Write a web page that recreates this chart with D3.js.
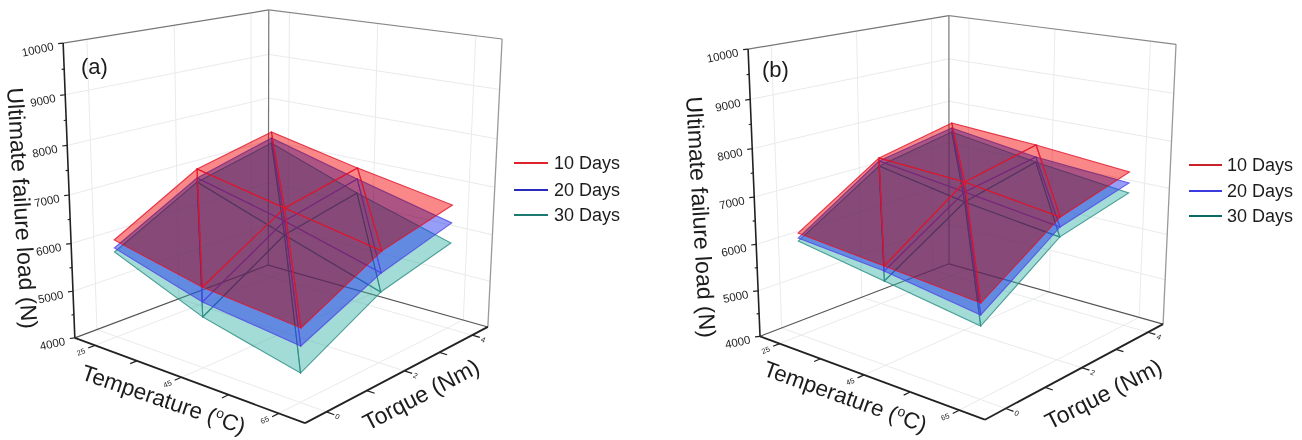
<!DOCTYPE html>
<html><head><meta charset="utf-8"><script src="https://cdn.jsdelivr.net/npm/d3@7"></script>
<style>html,body{margin:0;background:#fff}svg{display:block}text{font-family:"Liberation Sans",Arial,sans-serif;fill:#1c1c1c}</style></head>
<body><svg id="c" width="1302" height="440"></svg>
<script>
const temps=[25,45,65], torques=[0,2,4], zTicks=[4000,5000,6000,7000,8000,9000,10000];
const series=["10 Days","20 Days","30 Days"];
// ultimate failure load (N): one row per temperature, one value per torque
const panelA10=[[6056,7036,7408],[5637,6650,6999],[5435,6272,6646]];
const panelA20=[[5890,6840,7271],[5337,6380,6757],[5092,5833,6268]];
const panelA30=[[5806,6753,7157],[5035,6087,6449],[4573,5450,5843]];
const panelB10=[[6221,7324,7676],[6058,7225,7549],[5895,6960,7366]];
const panelB20=[[6114,7257,7559],[5956,7014,7280],[5664,6759,7132]];
const panelB30=[[6050,7146,7466],[5753,6801,7168],[5450,6557,6919]];
const uS=d3.scaleLinear([20,70],[0,1]), vS=d3.scaleLinear([-0.5,4.5],[0,1]), wS=d3.scaleLinear([4000,10000],[0,1]);
function solve(A,b){const n=b.length,M=A.map((r,i)=>[...r,b[i]]);
 for(let c=0;c<n;c++){let p=c;for(let r=c+1;r<n;r++)if(Math.abs(M[r][c])>Math.abs(M[p][c]))p=r;[M[c],M[p]]=[M[p],M[c]];
  for(let r=0;r<n;r++)if(r!==c){const f=M[r][c]/M[c][c];for(let k=c;k<=n;k++)M[r][k]-=f*M[c][k];}}
 return M.map((r,i)=>r[n]/r[i]);}
// perspective camera fitted to the corners of the plot box
function camera(cs){const rows=[],rhs=[];
 cs.forEach(([u,v,w,x,y])=>{x/=1000;y/=1000;
  rows.push([u,v,w,1,0,0,0,0,-x*u,-x*v,-x*w]);rhs.push(x);
  rows.push([0,0,0,0,u,v,w,1,-y*u,-y*v,-y*w]);rhs.push(y);});
 const N=11,A=d3.range(N).map(i=>d3.range(N).map(j=>d3.sum(rows,r=>r[i]*r[j]))),B=d3.range(N).map(i=>d3.sum(rows,(r,k)=>r[i]*rhs[k]));
 const p=solve(A,B);
 return (u,v,w)=>{const d=p[8]*u+p[9]*v+p[10]*w+1;return [1000*(p[0]*u+p[1]*v+p[2]*w+p[3])/d,1000*(p[4]*u+p[5]*v+p[6]*w+p[7])/d];};}
const svg=d3.select("#c"),root=svg.append("g");
svg.append("defs").append("filter").attr("id","soft").attr("filterUnits","userSpaceOnUse").attr("x",0).attr("y",0)
 .attr("width",1302).attr("height",440).append("feGaussianBlur").attr("stdDeviation",0.7);
root.attr("filter","url(#soft)");
root.append("rect").attr("width",1302).attr("height",440).attr("fill","#fff");
const fills=["rgba(235,0,0,.25)","rgba(25,40,240,.45)","rgba(50,175,165,.45)"];
const strokes=["#e0142c","#5046e6","#288c82"];
const legendCol=[["#e0202a","#2a2ab8","#1f7a70"],["#c8202a","#3a3ae0","#0f6a62"]];
const panels=[
 {tag:"(a)",tagXY:[81,74],cal:[[0,0,0,75,338],[0,0,1,63,43],[0,1,1,269,10],[0,1,0,268,265],[1,1,1,502,39],[1,1,0,488,327],[1,0,0,305,423]],
  vals:[panelA10,panelA20,panelA30],yT:[7,88,86.5],xT:[80,379,18.8],tT:[368,431,-27.5],leg:[514,548,554,[163,190,215]]},
 {tag:"(b)",tagXY:[762,77],cal:[[0,0,0,760,337],[0,0,1,748,49],[0,1,1,949,16],[0,1,0,949,263],[1,1,1,1176,44],[1,1,0,1163,325],[1,0,0,985,419]],
  vals:[panelB10,panelB20,panelB30],yT:[686,97,86.7],xT:[762,375,19.7],tT:[1050,430,-27],leg:[1189,1222,1227,[165,191,216]]}];
panels.forEach((P,pi)=>{
 const cam=camera(P.cal),g=root.append("g");
 const line=(a,b,col,w)=>g.append("line").attr("x1",a[0]).attr("y1",a[1]).attr("x2",b[0]).attr("y2",b[1]).attr("stroke",col).attr("stroke-width",w);
 const grid="#e8eaec";
 temps.forEach(t=>{const u=uS(t);line(cam(u,0,0),cam(u,1,0),grid,1);line(cam(u,1,0),cam(u,1,1),grid,1);});
 torques.forEach(t=>{const v=vS(t);line(cam(0,v,0),cam(1,v,0),grid,1);line(cam(0,v,0),cam(0,v,1),grid,1);});
 zTicks.slice(1,-1).forEach(z=>{const w=wS(z);line(cam(0,0,w),cam(0,1,w),grid,1);line(cam(0,1,w),cam(1,1,w),grid,1);});
 line(cam(0,1,0),cam(0,1,1),"#777",1.2);line(cam(1,1,0),cam(1,1,1),"#999",1.3);
 line(cam(0,0,1),cam(0,1,1),"#777",1.2);line(cam(0,1,1),cam(1,1,1),"#888",1.2);
 line(cam(0,0,0),cam(0,1,0),"#555",1.1);line(cam(0,1,0),cam(1,1,0),"#555",1.1);
 [2,1,0].forEach(k=>{const pt=(i,j)=>cam(uS(temps[i]),vS(torques[j]),wS(P.vals[k][i][j]));
  const tris=[];d3.range(2).forEach(i=>d3.range(2).forEach(j=>{tris.push([pt(i,j),pt(i,j+1),pt(i+1,j)]);tris.push([pt(i,j+1),pt(i+1,j),pt(i+1,j+1)]);}));
  const outline=d3.line()([pt(0,0),pt(1,0),pt(2,0),pt(2,1),pt(2,2),pt(1,2),pt(0,2),pt(0,1)])+"Z";
  if(k===0)g.append("path").attr("d",outline).attr("fill","rgb(255,182,182)").style("mix-blend-mode","multiply");
  g.append("path").attr("d",outline).attr("fill",fills[k]);
  g.selectAll(null).data(tris).join("path").attr("d",d=>d3.line()(d)+"Z").attr("fill","none").attr("stroke",strokes[k]).attr("stroke-width",1.1).attr("stroke-opacity",.8);
 });
 line(cam(0,0,0),cam(0,0,1),"#222",1.6);line(cam(0,0,0),cam(1,0,0),"#222",1.8);line(cam(1,0,0),cam(1,1,0),"#222",1.8);
 const lab=(xy,s,size,rot,anchor)=>g.append("text").attr("transform",`translate(${xy[0]},${xy[1]}) rotate(${rot})`).attr("font-size",size).attr("text-anchor",anchor||"start").text(s);
 d3.range(4000,10001,500).forEach(z=>{const p=cam(0,0,wS(z));const major=z%1000===0;line(p,[p[0]-(major?5:2.5),p[1]+(major?0.6:0.3)],"#222",1.2);
  if(major)lab([p[0]-9,p[1]+7],z,11.5,-12,"end");});
 d3.range(25,66,10).forEach((t,i)=>{const u=uS(t),p=cam(u,0,0),q=cam(u,-0.03,0);line(p,q,"#222",1.2);
  if(i%2===0)lab([p[0]-13,p[1]+9],t,7.5,-22,"middle");});
 d3.range(0,4.1,1).forEach((t,i)=>{const v=vS(t),p=cam(1,v,0),q=cam(1.03,v,0);line(p,q,"#222",1.2);
  if(i%2===0)lab([p[0]+10,p[1]+7],t,7.5,24,"middle");});
 lab(P.tagXY,P.tag,22,0);
 lab(P.yT.slice(0,2),"Ultimate failure load (N)",23,P.yT[2]);
 const tx=lab(P.xT.slice(0,2),"Temperature (",22.5,P.xT[2]);
 tx.append("tspan").attr("font-size",14).attr("dy",-8).text("o");tx.append("tspan").attr("dy",8).text("C)");
 lab(P.tT.slice(0,2),"Torque (Nm)",23,P.tT[2]);
 series.forEach((s,k)=>{const y=P.leg[3][k];line([P.leg[0],y],[P.leg[1],y],legendCol[pi][k],2);lab([P.leg[2],y+6],s,18,0);});
});
</script></body></html>
